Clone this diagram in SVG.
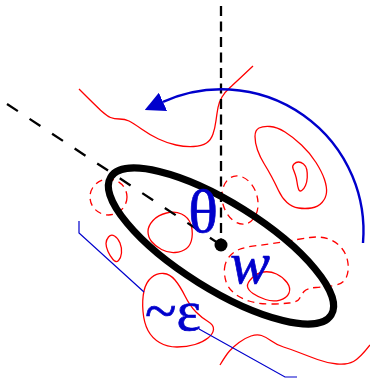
<svg xmlns="http://www.w3.org/2000/svg" width="370" height="378" viewBox="0 0 370 378">
<style>
.r{fill:none;stroke:#ff0000;stroke-width:1.3}
.rd{fill:none;stroke:#ff0000;stroke-width:1.3;stroke-dasharray:7,5}
.bl{fill:none;stroke:#0000cc}
.t{font-family:"Liberation Serif",serif;fill:#0000cc;font-size:56px;stroke:#0000cc;stroke-width:0.7}
</style>
<defs>
<marker id="ah" viewBox="0 0 20 20" refX="0" refY="10" markerWidth="20" markerHeight="20" markerUnits="userSpaceOnUse" orient="auto">
<path d="M0,0 L20,10 L0,20 Z" fill="#0000cc"/>
</marker>
</defs>
<g id="contours">
<path class="r" d="M79,89 Q97,107 102,111.5 Q107,116 110.5,117.5 Q114,119 119.5,119 Q125,119 129,121 Q133,123 141.5,129 Q150,135 158.5,139 Q167,143 176,145 Q185,147 193.5,146.5 Q202,146 206.5,143 Q211,140 213,134 Q215,128 216,120.5 Q217,113 218,107.5 Q219,102 222,97 Q225,92 230,87.5 Q235,83 253,66"/>
<path class="r" d="M255,136.5 Q255,130 259,128 Q263,126 270,126.5 Q277,127 285,132 Q293,137 301.5,145 Q310,153 316,162.5 Q322,172 324.5,179.5 Q327,187 326.5,192.5 Q326,198 322,202.5 Q318,207 311.5,208 Q305,209 298.5,208 Q292,207 287,202.5 Q282,198 278.5,190.5 Q275,183 271.5,176.5 Q268,170 264,163.5 Q260,157 257.5,150 Q255,143 255,136.5 Z"/>
<path class="r" d="M293,168.5 Q292,166 294,164 Q296,162 298.5,162 Q301,162 303.5,164 Q306,166 306.75,169.5 Q307.5,173 307.25,177.5 Q307,182 305.5,185.5 Q304,189 301.75,190.5 Q299.5,192 298.5,189 Q297.5,186 297,182 Q296.5,178 295.25,174.5 Q294,171 293,168.5 Z"/>
<path class="r" d="M148,231.5 Q148,226 153,220.5 Q158,215 166.5,213 Q175,211 181.5,214 Q188,217 190.5,223.5 Q193,230 192,237.5 Q191,245 186.5,248.5 Q182,252 175,252.5 Q168,253 161.5,249.5 Q155,246 151.5,241.5 Q148,237 148,231.5 Z"/>
<path class="r" d="M106,243.5 Q106,240 108.5,237 Q111,234 114.5,236 Q118,238 120,243 Q122,248 121.5,253 Q121,258 118.5,260.5 Q116,263 113,259.5 Q110,256 108,251.5 Q106,247 106,243.5 Z"/>
<path class="r" d="M143,311.5 Q142,300 144,291 Q146,282 151.5,277.5 Q157,273 163.5,273.5 Q170,274 175,280 Q180,286 185,296 Q190,306 196,312 Q202,318 208,321.5 Q214,325 213.5,329.5 Q213,334 208,338 Q203,342 195,344.5 Q187,347 177,347 Q167,347 159.5,342.5 Q152,338 148,330.5 Q144,323 143,311.5 Z"/>
<path class="r" d="M247.5,286.5 Q247,283 252,278 Q257,273 263.5,272 Q270,271 276.5,274 Q283,277 287,282.5 Q291,288 289,293 Q287,298 280,300 Q273,302 265.5,299.5 Q258,297 253,293.5 Q248,290 247.5,286.5 Z"/>
<path class="r" d="M220,365 Q226,355 229.5,351 Q233,347 239,342.5 Q245,338 251,336 Q257,334 261.5,335.5 Q266,337 271.5,341 Q277,345 283.5,347 Q290,349 299,352.5 Q308,356 317.5,359.5 Q327,363 337,364 Q347,365 353.5,361.5 Q360,358 370,345"/>
<ellipse class="rd" cx="108.5" cy="197" rx="18.5" ry="18"/>
<ellipse class="rd" cx="240" cy="200" rx="17.5" ry="24.5" transform="rotate(-15 240 200)"/>
<path class="rd" d="M224.5,268.5 Q225,262 229,257 Q233,252 239,249.5 Q245,247 257.5,245.5 Q270,244 285,241.5 Q300,239 310,237.5 Q320,236 328.5,239 Q337,242 342,248.5 Q347,255 348,263.5 Q349,272 346,278 Q343,284 334,285.5 Q325,287 316,287.5 Q307,288 304,291.5 Q301,295 299.5,298.5 Q298,302 289,303 Q280,304 269,304 Q258,304 249,301 Q240,298 234,293 Q228,288 226,281.5 Q224,275 224.5,268.5 Z"/>
</g>
<g id="connectors">
<line x1="221" y1="6" x2="221" y2="245" stroke="#000" stroke-width="2.3" stroke-dasharray="10,5.5"/>
<line x1="7" y1="104" x2="221" y2="245" stroke="#000" stroke-width="2.3" stroke-dasharray="13,14"/>
<path class="bl" stroke-width="2.4" d="M363,243 A142,142 0 0 0 163,101.8" marker-end="url(#ah)"/>
<polyline class="bl" stroke-width="1.2" points="79,221 79,233 144,292"/>
<polyline class="bl" stroke-width="1.2" points="199,329 285,377 297,377"/>
</g>
<g id="ellipse">
<ellipse cx="221" cy="246" rx="130" ry="43" transform="rotate(32 221 246)" fill="none" stroke="#000" stroke-width="7"/>
</g>
<g id="dot">
<circle cx="221" cy="245" r="6.5" fill="#000"/>
</g>
<g id="labels">
<text class="t" x="203" y="232" text-anchor="middle" style="font-size:62px">θ</text>
<text class="t" x="250" y="283" text-anchor="middle" style="font-size:60px;font-style:italic">w</text>
<text class="t" x="145" y="330" style="font-size:58px">~ε</text>
</g>
</svg>
